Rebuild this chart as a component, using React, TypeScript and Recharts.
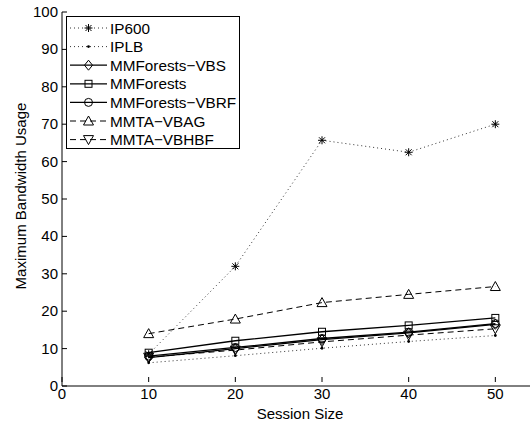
import React from "react";
import { LineChart, Line, XAxis, YAxis, Legend, Label } from "recharts";

// x values (session size)
const sessionSizes = [10, 20, 30, 40, 50];

// series values
const ip600 = [8.5, 32, 65.7, 62.5, 70];
const iplb = [6.2, 8.1, 10.1, 11.9, 13.5];
const mmfVbs = [7.6, 10.0, 12.4, 14.2, 16.5];
const mmForests = [8.9, 12.1, 14.5, 16.2, 18.2];
const mmfVbrf = [8.0, 10.3, 12.7, 14.4, 16.7];
const mmtaVbag = [14.0, 17.9, 22.3, 24.5, 26.6];
const mmtaVbhbf = [7.7, 9.6, 11.8, 13.6, 15.3];

const xTicks = [0, 10, 20, 30, 40, 50];
const yTicks = [0, 10, 20, 30, 40, 50, 60, 70, 80, 90, 100];

const FONT = '"Liberation Sans", Arial, Helvetica, sans-serif';

type Marker = "star" | "point" | "diamond" | "square" | "circle" | "up" | "down";

const series: {
  key: string;
  name: string;
  values: number[];
  marker: Marker;
  dash?: string;
  width: number;
  color: string;
}[] = [
  { key: "ip600", name: "IP600", values: ip600, marker: "star", dash: "1 3", width: 1, color: "#333" },
  { key: "iplb", name: "IPLB", values: iplb, marker: "point", dash: "1 3", width: 1, color: "#333" },
  { key: "vbs", name: "MMForests\u2212VBS", values: mmfVbs, marker: "diamond", width: 1.3, color: "#000" },
  { key: "mmf", name: "MMForests", values: mmForests, marker: "square", width: 1.3, color: "#000" },
  { key: "vbrf", name: "MMForests\u2212VBRF", values: mmfVbrf, marker: "circle", width: 1.3, color: "#000" },
  { key: "vbag", name: "MMTA\u2212VBAG", values: mmtaVbag, marker: "up", dash: "6 4", width: 1, color: "#000" },
  { key: "vbhbf", name: "MMTA\u2212VBHBF", values: mmtaVbhbf, marker: "down", dash: "6 4", width: 1, color: "#000" },
];

const data = sessionSizes.map((s, i) => {
  const row: Record<string, number> = { size: s };
  series.forEach((sr) => {
    row[sr.key] = sr.values[i];
  });
  return row;
});

const drawMarker = (kind: Marker, cx: number, cy: number, key?: string) => {
  const st = { stroke: "#000", strokeWidth: 1, fill: "none" };
  switch (kind) {
    case "star":
      return (
        <g key={key}>
          <line x1={cx - 4} y1={cy} x2={cx + 4} y2={cy} {...st} />
          <line x1={cx} y1={cy - 4} x2={cx} y2={cy + 4} {...st} />
          <line x1={cx - 3} y1={cy - 3} x2={cx + 3} y2={cy + 3} {...st} />
          <line x1={cx - 3} y1={cy + 3} x2={cx + 3} y2={cy - 3} {...st} />
        </g>
      );
    case "point":
      return <circle key={key} cx={cx} cy={cy} r={1.4} fill="#000" />;
    case "diamond":
      return (
        <polygon
          key={key}
          points={`${cx},${cy - 5} ${cx + 4},${cy} ${cx},${cy + 5} ${cx - 4},${cy}`}
          {...st}
        />
      );
    case "square":
      return <rect key={key} x={cx - 3.5} y={cy - 3.5} width={7} height={7} {...st} />;
    case "circle":
      return <circle key={key} cx={cx} cy={cy} r={4} {...st} />;
    case "up":
      return (
        <polygon
          key={key}
          points={`${cx},${cy - 5} ${cx + 5},${cy + 4} ${cx - 5},${cy + 4}`}
          {...st}
        />
      );
    case "down":
      return (
        <polygon
          key={key}
          points={`${cx},${cy + 5} ${cx + 5},${cy - 4} ${cx - 5},${cy - 4}`}
          {...st}
        />
      );
  }
  return null;
};

const YTick = (props: any) => {
  const { x, y, payload } = props;
  return (
    <g>
      <text x={x} y={y} dy={5} textAnchor="end" fontSize={15} fontFamily={FONT} fill="#000">
        {payload.value}
      </text>
      <line x1={x + 4} x2={x + 9} y1={y} y2={y} stroke="#000" />
    </g>
  );
};

const XTick = (props: any) => {
  const { x, y, payload } = props;
  return (
    <g>
      <text x={x} y={y} dy={13} textAnchor="middle" fontSize={15} fontFamily={FONT} fill="#000">
        {payload.value}
      </text>
      <line x1={x} x2={x} y1={y - 4} y2={y - 9} stroke="#000" />
    </g>
  );
};

const LegendBox = () => {
  const w = 174;
  const h = 133;
  return (
    <svg width={w} height={h} style={{ display: "block" }}>
      <rect x={0.5} y={0.5} width={w - 1} height={h - 1} fill="#fff" stroke="#000" />
      {series.map((s, i) => {
        const cy = 12 + i * 18.6;
        return (
          <g key={s.key}>
            <line
              x1={4}
              x2={41}
              y1={cy}
              y2={cy}
              stroke={s.color}
              strokeWidth={s.width}
              strokeDasharray={s.dash}
            />
            {drawMarker(s.marker, 22.5, cy)}
            <text
              x={44}
              y={cy}
              dy={5.5}
              fontSize={15.3}
              fontFamily={FONT}
              fill="#000"
            >
              {s.name}
            </text>
          </g>
        );
      })}
    </svg>
  );
};

export default function App() {
  return (
    <div
      style={{
        position: "absolute",
        left: 0,
        top: 0,
        width: 530,
        height: 430,
        overflow: "hidden",
        background: "#fff",
      }}
    >
      <LineChart
        width={600}
        height={430}
        data={data}
        margin={{ top: 12, right: 18, bottom: 14, left: 2 }}
      >
        <XAxis
          dataKey="size"
          type="number"
          domain={[0, 60]}
          ticks={xTicks}
          height={30}
          tickSize={0}
          tickMargin={0}
          tick={<XTick />}
          tickLine={false}
          axisLine={{ stroke: "#000" }}
        >
          <Label
            content={({ viewBox }: any) => (
              <text
                x={viewBox.x + 238}
                y={viewBox.y + 33}
                textAnchor="middle"
                fontSize={15}
                fontFamily={FONT}
                fill="#000"
              >
                Session Size
              </text>
            )}
          />
        </XAxis>
        <YAxis
          type="number"
          domain={[0, 100]}
          ticks={yTicks}
          width={60}
          tickSize={0}
          tickMargin={4}
          tick={<YTick />}
          tickLine={false}
          axisLine={{ stroke: "#000" }}
        >
          <Label
            content={({ viewBox }: any) => {
              const cx = viewBox.x + 18;
              const cy = viewBox.y + viewBox.height / 2 - 3;
              return (
                <text
                  x={cx}
                  y={cy}
                  transform={`rotate(-90 ${cx} ${cy})`}
                  textAnchor="middle"
                  dominantBaseline="central"
                  fontSize={15}
                  fontFamily={FONT}
                  fill="#000"
                >
                  Maximum Bandwidth Usage
                </text>
              );
            }}
          />
        </YAxis>
        {series.map((s) => (
          <Line
            key={s.key}
            dataKey={s.key}
            name={s.name}
            stroke={s.color}
            strokeWidth={s.width}
            strokeDasharray={s.dash}
            isAnimationActive={false}
            dot={(p: any) => drawMarker(s.marker, p.cx, p.cy, `${s.key}-${p.index}`)}
            activeDot={false}
          />
        ))}
        <Legend
          layout="horizontal"
          verticalAlign="middle"
          align="center"
          wrapperStyle={{ left: 66, top: 16, width: 174, height: 133 }}
          content={() => <LegendBox />}
        />
      </LineChart>
    </div>
  );
}
